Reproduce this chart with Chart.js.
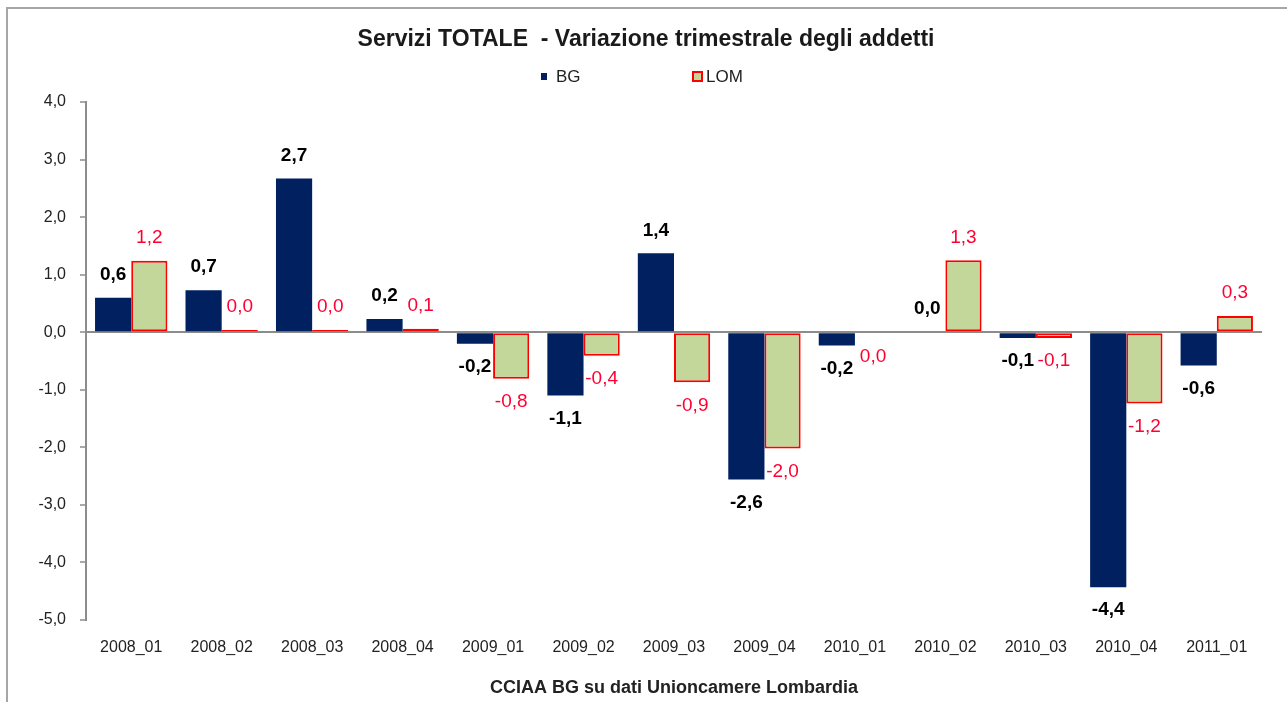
<!DOCTYPE html>
<html>
<head>
<meta charset="utf-8">
<script src="https://cdn.jsdelivr.net/npm/chart.js@4.4.1/dist/chart.umd.min.js"></script>
<style>
  html, body { margin: 0; padding: 0; background: #fff; }
  #wrap { position: relative; width: 1287px; height: 702px; }
  #frame { position: absolute; left: 6px; top: 7px; right: -10px; bottom: -10px;
           border-left: 2px solid #a6a6a6; border-top: 2px solid #a6a6a6; }
  canvas { position: absolute; left: 0; top: 0; }
</style>
</head>
<body>
<div id="wrap">
  <div id="frame"></div>
  <canvas id="servChart" width="1287" height="702"></canvas>
</div>
<script>
let chart_title = 'Servizi TOTALE  - Variazione trimestrale degli addetti';

let periods = ['2008_01', '2008_02', '2008_03', '2008_04', '2009_01', '2009_02', '2009_03',
               '2009_04', '2010_01', '2010_02', '2010_03', '2010_04', '2011_01'];

let bg_values = [0.60, 0.73, 2.67, 0.23, -0.20, -1.10, 1.37, -2.56, -0.23, 0.0, -0.10, -4.43, -0.58];
let lom_values = [1.24, 0.04, 0.04, 0.06, -0.81, -0.41, -0.87, -2.02, -0.02, 1.25, -0.10, -1.24, 0.28];

let y_ticks = [4, 3, 2, 1, 0, -1, -2, -3, -4, -5];

const BG_COLOR = '#002060';
const LOM_FILL = '#c4d79b';
const LOM_LINE = '#ff0000';
const FONT = 'Arial, "Liberation Sans", sans-serif';

function fmt(v) {
    return v.toFixed(1).replace('.', ',').replace('-0,0', '0,0');
}

// value labels above / below every bar
let barLabels = {
    id: 'barLabels',
    afterDatasetsDraw(chart) {
        let ctx = chart.ctx;
        ctx.save();
        ctx.textAlign = 'center';
        ctx.textBaseline = 'middle';
        chart.data.datasets.forEach((ds, i) => {
            let meta = chart.getDatasetMeta(i);
            meta.data.forEach((bar, j) => {
                let v = ds.data[j];
                let y = v >= 0 ? bar.y - 23 : bar.y + 23;
                if (i === 0) {
                    ctx.font = 'bold 19px ' + FONT;
                    ctx.fillStyle = '#000';
                } else {
                    ctx.font = '19px ' + FONT;
                    ctx.fillStyle = '#ff0033';
                }
                ctx.fillText(fmt(v), bar.x, y);
            });
        });
        ctx.restore();
    }
};

// title and small square legend above the plot
let header = {
    id: 'header',
    afterDraw(chart) {
        let ctx = chart.ctx;
        ctx.save();
        ctx.textBaseline = 'middle';
        ctx.textAlign = 'center';
        ctx.font = 'bold 23px ' + FONT;
        ctx.fillStyle = '#1a1a1a';
        ctx.fillText(chart_title, 646, 40);

        ctx.textAlign = 'left';
        ctx.font = '17px ' + FONT;
        ctx.fillStyle = BG_COLOR;
        ctx.fillRect(541, 73, 6, 7);
        ctx.fillStyle = '#222';
        ctx.fillText('BG', 556, 77);

        ctx.fillStyle = LOM_FILL;
        ctx.fillRect(692, 71, 11, 11);
        ctx.strokeStyle = LOM_LINE;
        ctx.lineWidth = 2;
        ctx.strokeRect(693, 72, 9, 9);
        ctx.fillStyle = '#222';
        ctx.fillText('LOM', 706, 77);
        ctx.restore();
    }
};

let ctx = document.getElementById('servChart').getContext('2d');
let chart = new Chart(ctx, {
    type: 'bar',
    data: {
        labels: periods,
        datasets: [{
            label: 'BG',
            data: bg_values,
            backgroundColor: BG_COLOR,
            borderWidth: 0,
            categoryPercentage: 0.8,
            barPercentage: 1.0
        }, {
            label: 'LOM',
            data: lom_values,
            backgroundColor: LOM_FILL,
            borderColor: LOM_LINE,
            borderWidth: 2,
            borderSkipped: false,
            categoryPercentage: 0.8,
            barPercentage: 1.0
        }]
    },
    options: {
        responsive: false,
        animation: false,
        layout: {
            padding: { left: 0, right: 25, top: 102, bottom: 0 }
        },
        plugins: {
            legend: { display: false },
            tooltip: { enabled: false },
            title: { display: false }
        },
        scales: {
            x: {
                grid: { display: false, drawTicks: false },
                border: { display: false },
                ticks: {
                    color: '#222',
                    font: { family: FONT, size: 16 },
                    padding: 18.4,
                    maxRotation: 0
                },
                title: {
                    display: true,
                    text: 'CCIAA BG su dati Unioncamere Lombardia',
                    color: '#222',
                    font: { family: FONT, size: 18, weight: 'bold' },
                    padding: { top: 1.4, bottom: 3 }
                }
            },
            y: {
                min: -5,
                max: 4,
                afterBuildTicks(scale) {
                    scale.ticks = y_ticks.map(v => ({ value: v }));
                },
                afterFit(scale) {
                    scale.width = 86;
                },
                grid: {
                    color: c => (c.tick && c.tick.value === 0) ? '#8c8c8c' : 'transparent',
                    lineWidth: 2,
                    tickColor: '#8c8c8c',
                    tickLength: 6,
                    tickWidth: 1.5
                },
                border: { display: true, color: '#8c8c8c', width: 2 },
                ticks: {
                    color: '#222',
                    font: { family: FONT, size: 16 },
                    padding: 14,
                    callback: v => fmt(v)
                }
            }
        }
    },
    plugins: [barLabels, header]
});
</script>
</body>
</html>
